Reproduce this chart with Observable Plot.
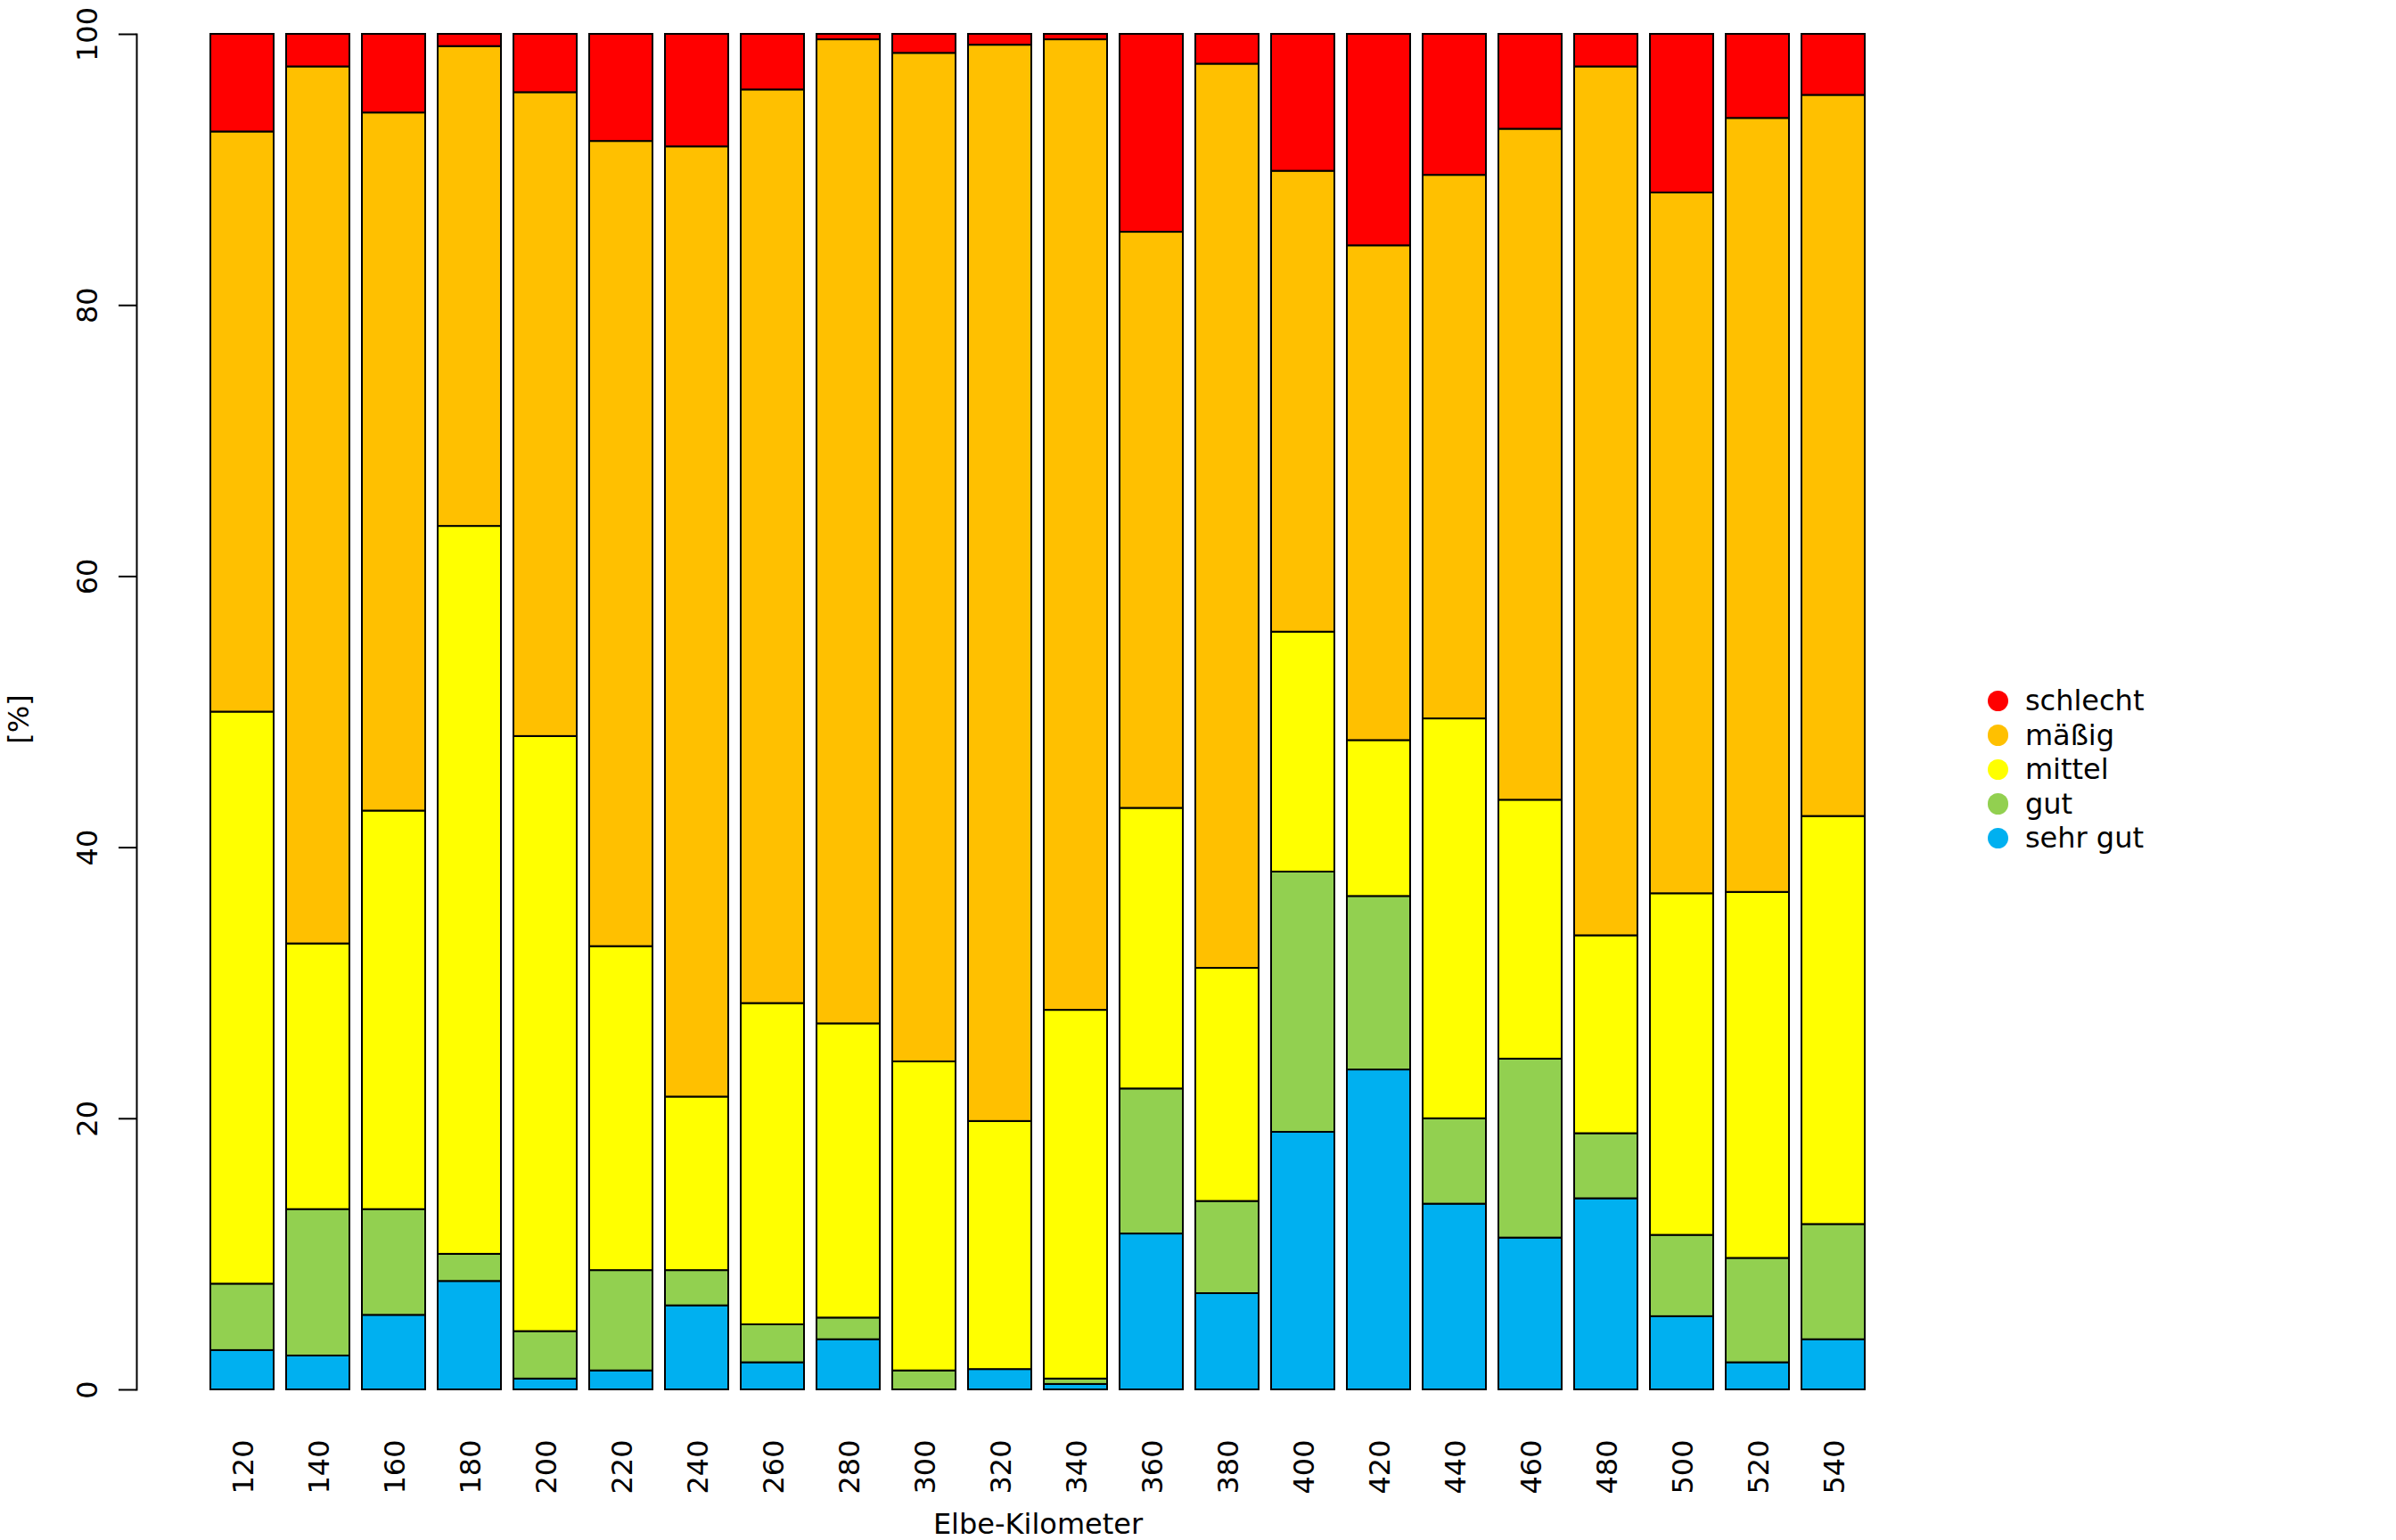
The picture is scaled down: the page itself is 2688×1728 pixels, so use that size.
<!DOCTYPE html>
<html>
<head>
<meta charset="utf-8">
<script src="https://cdn.jsdelivr.net/npm/d3@7"></script>
<script src="https://cdn.jsdelivr.net/npm/@observablehq/plot@0.6"></script>
<style>
  html, body { margin: 0; padding: 0; background: white; }
  #wrap { position: relative; width: 2688px; height: 1728px; font-family: "DejaVu Sans", sans-serif; }
  #legend { position: absolute; left: 2230px; top: 767px; font-size: 32px; color: black; }
  #legend .row { display: flex; align-items: center; height: 38.6px; line-height: 38.6px; }
  #legend .sw { width: 23.4px; height: 23.4px; border-radius: 50%; margin-right: 18.5px; }
</style>
</head>
<body>
<div id="wrap"><div id="legend"></div></div>
<script>
const km = [120, 140, 160, 180, 200, 220, 240, 260, 280, 300, 320, 340, 360, 380, 400, 420, 440, 460, 480, 500, 520, 540];
const categories = ["sehr gut", "gut", "mittel", "mäßig", "schlecht"];
const colors = ["#00B0F0", "#92D050", "#FFFF00", "#FFC000", "#FF0000"];
const sehrGut  = [2.9, 2.5, 5.5, 8.0, 0.8, 1.4, 6.2, 2.0, 3.7, 0.0, 1.5, 0.4, 11.5, 7.1, 19.0, 23.6, 13.7, 11.2, 14.1, 5.4, 2.0, 3.7];
const gut      = [4.9, 10.8, 7.8, 2.0, 3.5, 7.4, 2.6, 2.8, 1.6, 1.4, 0.0, 0.4, 10.7, 6.8, 19.2, 12.8, 6.3, 13.2, 4.8, 6.0, 7.7, 8.5];
const mittel   = [42.2, 19.6, 29.4, 53.7, 43.9, 23.9, 12.8, 23.7, 21.7, 22.8, 18.3, 27.2, 20.7, 17.2, 17.7, 11.5, 29.5, 19.1, 14.6, 25.2, 27.0, 30.1];
const maessig  = [42.8, 64.7, 51.5, 35.4, 47.5, 59.4, 70.1, 67.4, 72.6, 74.4, 79.4, 71.6, 42.5, 66.7, 34.0, 36.5, 40.1, 49.5, 64.1, 51.7, 57.1, 53.2];
const schlecht = [7.2, 2.4, 5.8, 0.9, 4.3, 7.9, 8.3, 4.1, 0.4, 1.4, 0.8, 0.4, 14.6, 2.2, 10.1, 15.6, 10.4, 7.0, 2.4, 11.7, 6.2, 4.5];
const yTicks = [0, 20, 40, 60, 80, 100];
const xTitle = "Elbe-Kilometer";
const yTitle = "[%]";
const legendOrder = ["schlecht", "mäßig", "mittel", "gut", "sehr gut"];

const series = [sehrGut, gut, mittel, maessig, schlecht];
const rows = km.flatMap((k, i) => categories.map((c, j) => ({km: String(k), cat: c, value: series[j][i]})));

const chart = Plot.plot({
  width: 2688,
  height: 1728,
  marginLeft: 153,
  marginRight: 513,
  marginTop: 38,
  marginBottom: 169,
  style: {fontFamily: "DejaVu Sans", fontSize: "32px", background: "white", color: "black"},
  x: {type: "band", domain: km.map(String), paddingInner: 1 / 6, paddingOuter: 0.8733, align: 0.5, axis: null},
  y: {domain: [0, 100], axis: null},
  color: {domain: categories, range: colors},
  marks: [
    Plot.barY(rows, {x: "km", y: "value", fill: "cat", stroke: "black", strokeWidth: 2, order: categories}),
    Plot.axisY({ticks: yTicks, tickSize: 20, tickFormat: () => "", label: null, strokeWidth: 2}),
    Plot.frame({anchor: "left", strokeWidth: 2}),
    Plot.text(yTicks, {y: d => d, text: d => String(d), frameAnchor: "left", dx: -55, rotate: -90, textAnchor: "middle", lineAnchor: "middle"}),
    Plot.text(km.map(String), {x: d => d, text: d => d, frameAnchor: "bottom", dy: 56, dx: 2, rotate: -90, textAnchor: "end", lineAnchor: "middle"}),
    Plot.text([xTitle], {text: d => d, frameAnchor: "bottom", dy: 161, lineAnchor: "bottom"}),
    Plot.text([yTitle], {text: d => d, frameAnchor: "left", dx: -132, dy: 8, rotate: -90, textAnchor: "middle", lineAnchor: "middle"})
  ]
});
const wrap = document.getElementById("wrap");
wrap.insertBefore(chart, wrap.firstChild);

const colorOf = Object.fromEntries(categories.map((c, i) => [c, colors[i]]));
const legend = d3.select("#legend");
for (const c of legendOrder) {
  const r = legend.append("div").attr("class", "row");
  r.append("span").attr("class", "sw").style("background", colorOf[c]);
  r.append("span").text(c);
}
</script>
</body>
</html>
